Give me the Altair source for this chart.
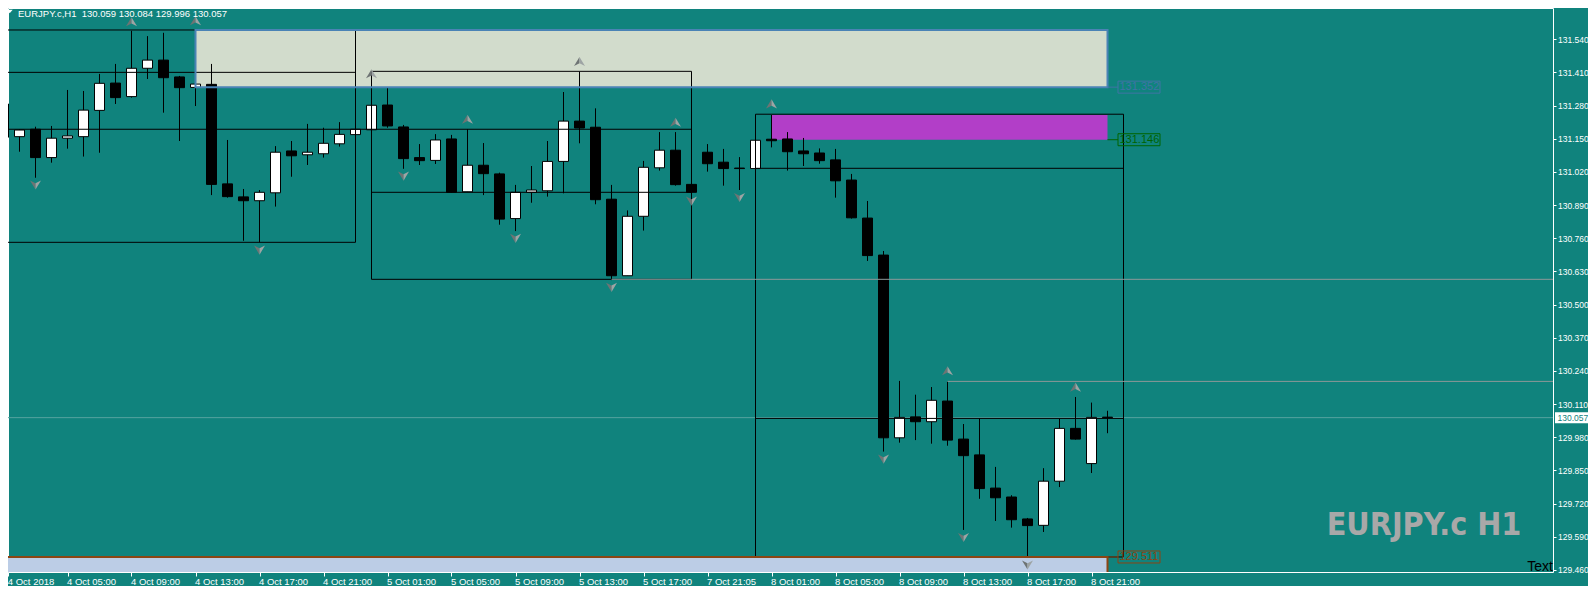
import altair as alt
import pandas as pd

# ---------------- data ----------------
opens = [131.286, 131.158, 131.187, 131.076, 131.152, 131.158, 131.261, 131.368, 131.315, 131.426,
         131.458, 131.392, 131.351, 131.363, 130.973, 130.922, 130.907, 130.938, 131.102, 131.087,
         131.091, 131.130, 131.166, 131.185, 131.282, 131.196, 131.076, 131.065, 131.149, 130.942,
         131.046, 131.012, 130.837, 130.940, 130.946, 131.061, 131.219, 131.195, 130.913, 130.613,
         130.846, 131.036, 131.105, 130.971, 131.097, 131.058, 131.035, 131.033, 131.148, 131.149,
         131.102, 131.094, 131.067, 130.988, 130.839, 130.694, 129.978, 130.060, 130.041, 130.122,
         129.973, 129.911, 129.781, 129.746, 129.660, 129.635, 129.808, 130.015, 129.877, 130.059]
highs = [131.299, 131.186, 131.197, 131.200, 131.341, 131.337, 131.404, 131.443, 131.573, 131.552,
         131.565, 131.396, 131.364, 131.443, 131.145, 130.953, 130.949, 131.121, 131.141, 131.208,
         131.193, 131.215, 131.190, 131.282, 131.350, 131.204, 131.129, 131.168, 131.165, 131.187,
         131.133, 131.017, 130.969, 131.043, 131.141, 131.333, 131.413, 131.269, 130.969, 130.869,
         131.063, 131.176, 131.176, 130.975, 131.129, 131.110, 131.078, 131.146, 131.243, 131.176,
         131.153, 131.112, 131.110, 131.012, 130.906, 130.710, 130.201, 130.147, 130.177, 130.198,
         130.032, 130.054, 129.864, 129.753, 129.664, 129.859, 130.052, 130.138, 130.116, 130.084]
lows = [131.116, 131.099, 130.997, 131.056, 131.111, 131.080, 131.095, 131.286, 131.311, 131.384,
        131.252, 131.141, 131.278, 130.929, 130.919, 130.750, 130.744, 130.884, 131.001, 131.047,
        131.076, 131.119, 131.165, 131.184, 131.193, 131.032, 131.047, 131.051, 130.938, 130.941,
        130.929, 130.813, 130.788, 130.899, 130.923, 130.936, 131.132, 130.893, 130.596, 130.612,
        130.790, 131.025, 130.966, 130.936, 131.021, 130.966, 130.949, 131.032, 131.116, 131.025,
        131.043, 131.052, 130.919, 130.837, 130.671, 129.924, 129.959, 129.969, 129.955, 129.947,
        129.617, 129.739, 129.652, 129.626, 129.511, 129.609, 129.785, 129.971, 129.840, 129.996]
closes = [131.156, 131.184, 131.076, 131.152, 131.161, 131.262, 131.367, 131.311, 131.426, 131.458,
          131.389, 131.350, 131.364, 130.971, 130.923, 130.907, 130.940, 131.097, 131.083, 131.097,
          131.132, 131.167, 131.187, 131.281, 131.200, 131.072, 131.064, 131.145, 130.940, 131.046,
          131.013, 130.835, 130.940, 130.949, 131.061, 131.219, 131.192, 130.911, 130.613, 130.846,
          131.038, 131.105, 130.970, 130.940, 131.052, 131.033, 131.033, 131.144, 131.142, 131.099,
          131.091, 131.064, 130.985, 130.840, 130.692, 129.978, 130.058, 130.041, 130.125, 129.969,
          129.908, 129.779, 129.743, 129.657, 129.634, 129.808, 130.015, 129.973, 130.058, 130.057]

time_labels = ["4 Oct 2018", "4 Oct 05:00", "4 Oct 09:00", "4 Oct 13:00", "4 Oct 17:00",
               "4 Oct 21:00", "5 Oct 01:00", "5 Oct 05:00", "5 Oct 09:00", "5 Oct 13:00",
               "5 Oct 17:00", "7 Oct 21:05", "8 Oct 01:00", "8 Oct 05:00", "8 Oct 09:00",
               "8 Oct 13:00", "8 Oct 17:00", "8 Oct 21:00"]
time_tick_bars = [0.3, 4, 8, 12, 16, 20, 24, 28, 32, 36, 40, 44, 48, 52, 56, 60, 64, 68]
price_ticks = [131.540, 131.410, 131.280, 131.150, 131.020, 130.890, 130.760, 130.630,
               130.500, 130.370, 130.240, 130.110, 129.980, 129.850, 129.720, 129.590, 129.460]

current_price = 130.057
title_text = "EURJPY.c,H1\u00a0\u00a0130.059 130.084 129.996 130.057"

# filled zones (bar from, bar to, price low, price high, fill)
zone_k1 = [12, 48, -2]
zone_k2 = [69, 69, 69]
zone_lo = [131.352, 131.146, 129.40]
zone_hi = [131.576, 131.243, 129.511]
zone_fill = ["#D2DCCC", "#B23EC8", "#BCCDE6"]

# zone outlines
border_k1 = [12, -2]
border_k2 = [69, 69]
border_lo = [131.352, 129.40]
border_hi = [131.576, 129.511]
border_color = ["#4A83B5", "#8B4513"]

# black box segments
seg_k1 = [-2, -2, -2, -2, 23, 23, 23, 47, 47, 47, 47, 22, 23, 43, 47, 70]
seg_k2 = [22, 22, 22, 43, 43, 43, 43, 70, 70, 70, 70, 22, 23, 43, 47, 70]
seg_p1 = [131.576, 131.410, 130.744, 131.187, 131.414, 130.940, 130.599, 131.246, 131.034,
          130.054, 129.511, 130.744, 130.599, 130.599, 129.511, 129.511]
seg_p2 = [131.576, 131.410, 130.744, 131.187, 131.414, 130.940, 130.599, 131.246, 131.034,
          130.054, 129.511, 131.576, 131.414, 131.414, 131.246, 131.246]

# grey level lines running to the right edge
level_k = [38, 59]
level_p = [130.599, 130.199]

# fractal arrows
up_k = [8, 12, 23, 29, 36, 42, 48, 59, 67]
up_p = [131.608, 131.612, 131.404, 131.226, 131.452, 131.214, 131.286, 130.240, 130.176]
dn_k = [2, 16, 25, 32, 38, 43, 46, 55, 60, 64]
dn_p = [130.969, 130.714, 131.004, 130.760, 130.568, 130.906, 130.920, 129.895, 129.588, 129.480]

# price tags at the right end of the zones
tag_k = [69, 69, 69]
tag_p = [131.352, 131.146, 129.511]
tag_text = ["131.352", "131.146", "129.511"]
tag_color = ["#3F74A6", "#006400", "#8B4513"]

# ---------------- layout ----------------
W, H = 1545, 564
TEAL = "#10837D"
FONT = "Liberation Sans"

xs = alt.Scale(domain=[0.28125, 96.84375], nice=False, zero=False, padding=0)
ys = alt.Scale(domain=[129.45216, 131.66216], nice=False, zero=False, padding=0)

label_expr = "[" + ",".join("'%s'" % s for s in time_labels) + "][round(datum.value/4)]"
XA = alt.Axis(values=time_tick_bars, labelExpr=label_expr, title=None, domain=False, grid=False,
              tickColor="white", tickSize=4, tickWidth=1, labelColor="white", labelFont=FONT,
              labelFontSize=9.5, labelAlign="left", labelOffset=-1, labelPadding=0,
              labelOverlap=False, labelFlush=False, labelBound=False)
YA = alt.Axis(orient="right", values=price_ticks, format=".3f", title=None, domain=False,
              grid=False, tickColor="white", tickSize=3, tickWidth=1, labelColor="white",
              labelFont=FONT, labelFontSize=8.5, labelPadding=1.5, labelOverlap=False,
              labelFlush=False)


def X(f):
    return alt.X(f, scale=xs, axis=XA)


def Y(f):
    return alt.Y(f, scale=ys, axis=YA)


candles = pd.DataFrame({"k": list(range(len(opens))), "open": opens, "high": highs,
                        "low": lows, "close": closes})
candles["dir"] = ["up" if c >= o else "down" for o, c in zip(opens, closes)]

zones = pd.DataFrame({"k1": zone_k1, "k2": zone_k2, "lo": zone_lo, "hi": zone_hi, "fill": zone_fill})
borders = pd.DataFrame({"k1": border_k1, "k2": border_k2, "lo": border_lo, "hi": border_hi,
                        "col": border_color})
segs = pd.DataFrame({"k1": seg_k1, "k2": seg_k2, "p1": seg_p1, "p2": seg_p2})
levels = pd.DataFrame({"k": level_k, "p": level_p})
ups = pd.DataFrame({"k": up_k, "p": up_p})
dns = pd.DataFrame({"k": dn_k, "p": dn_p})
tags = pd.DataFrame({"k": tag_k, "p": tag_p, "t": tag_text, "col": tag_color})
cur = pd.DataFrame({"p": [current_price], "t": ["%.3f" % current_price]})
one = pd.DataFrame({"t": [title_text], "w": ["EURJPY.c H1"], "x": ["Text"]})

zone_layer = alt.Chart(zones).mark_rect(clip=True).encode(
    x=X("k1:Q"), x2="k2:Q", y=Y("lo:Q"), y2="hi:Q", fill=alt.Fill("fill:N", scale=None))
bid_layer = alt.Chart(cur).mark_rule(color="#56A49F", strokeWidth=1).encode(y=Y("p:Q"))
wick_layer = alt.Chart(candles).mark_rule(color="black", strokeWidth=1, clip=True).encode(
    x=X("k:Q"), y=Y("low:Q"), y2="high:Q")
body_layer = alt.Chart(candles).mark_bar(size=10, stroke="black", strokeWidth=1, clip=True).encode(
    x=X("k:Q"), y=Y("open:Q"), y2="close:Q",
    fill=alt.Fill("dir:N", scale=alt.Scale(domain=["up", "down"], range=["white", "black"]),
                  legend=None))
seg_layer = alt.Chart(segs).mark_rule(color="black", strokeWidth=1, clip=True).encode(
    x=X("k1:Q"), x2="k2:Q", y=Y("p1:Q"), y2="p2:Q")
border_layer = alt.Chart(borders).mark_rect(fillOpacity=0, strokeWidth=2, clip=True).encode(
    x=X("k1:Q"), x2="k2:Q", y=Y("lo:Q"), y2="hi:Q", stroke=alt.Stroke("col:N", scale=None))
level_layer = alt.Chart(levels).mark_rule(color="#8C9898", strokeWidth=1, clip=True).encode(
    x=X("k:Q"), x2=alt.value(W), y=Y("p:Q"))

UPL = "M0,-0.85L0,0.3L-1,0.8Z"
UPR = "M0,-0.85L1,0.8L0,0.3Z"
DNL = "M0,0.85L0,-0.3L-1,-0.8Z"
DNR = "M0,0.85L1,-0.8L0,-0.3Z"
arrow_layers = []
for df, shp, col in [(ups, UPL, "#6E7474"), (ups, UPR, "#9EA4A4"),
                     (dns, DNL, "#6E7474"), (dns, DNR, "#9EA4A4")]:
    arrow_layers.append(alt.Chart(df).mark_point(shape=shp, size=121, filled=True, color=col,
                                                 opacity=1, strokeWidth=0, clip=True).encode(
        x=X("k:Q"), y=Y("p:Q")))

tag_line = alt.Chart(tags).mark_rule(x2Offset=10.5, strokeWidth=1).encode(
    x=X("k:Q"), x2="k:Q", y=Y("p:Q"), stroke=alt.Stroke("col:N", scale=None))
tag_box = alt.Chart(tags).mark_rect(xOffset=10.5, x2Offset=52.5, yOffset=-6, y2Offset=6,
                                    fillOpacity=0, strokeWidth=1).encode(
    x=X("k:Q"), x2="k:Q", y=Y("p:Q"), y2="p:Q", stroke=alt.Stroke("col:N", scale=None))
tag_txt = alt.Chart(tags).mark_text(dx=12, align="left", baseline="middle", font=FONT,
                                    fontSize=11).encode(
    x=X("k:Q"), y=Y("p:Q"), text="t:N", color=alt.Color("col:N", scale=None))

cur_box = alt.Chart(cur).mark_rect(color="white", yOffset=-5.5, y2Offset=5.5).encode(
    x=alt.value(W + 2), x2=alt.value(W + 35), y=Y("p:Q"), y2="p:Q")
cur_txt = alt.Chart(cur).mark_text(align="left", baseline="middle", color=TEAL, font=FONT,
                                   fontSize=8.5).encode(
    x=alt.value(W + 4.5), y=Y("p:Q"), text="t:N")

title_layer = alt.Chart(one).mark_text(align="left", baseline="alphabetic", color="white",
                                       font=FONT, fontSize=9.5).encode(
    x=alt.value(10), y=alt.value(9), text="t:N")
tri_layer = alt.Chart(one).mark_point(shape="M-1,-0.55L1,-0.55L0,0.55Z", size=36, filled=True,
                                      color="white", opacity=1, strokeWidth=0).encode(
    x=alt.value(1.7), y=alt.value(3.5))
mark_layer = alt.Chart(one).mark_text(align="center", baseline="alphabetic", color="#A8A8A8",
                                      font="DejaVu Sans Condensed, Roboto, sans-serif",
                                      fontWeight="bold", fontSize=32).encode(
    x=alt.value(1416), y=alt.value(527), text="w:N")
text_layer = alt.Chart(one).mark_text(align="right", baseline="alphabetic", color="black",
                                      font=FONT, fontSize=14).encode(
    x=alt.value(W), y=alt.value(563), text="x:N")

chart = alt.layer(
    zone_layer, bid_layer, wick_layer, body_layer, seg_layer, border_layer, level_layer,
    *arrow_layers, tag_line, tag_box, tag_txt, cur_box, cur_txt,
    title_layer, tri_layer, mark_layer, text_layer
).properties(
    width=W, height=H,
    padding={"left": 0, "top": 0, "right": 35, "bottom": 14},
    autosize=alt.AutoSizeParams(type="none"),
    background=TEAL,
).configure_view(stroke="white", strokeWidth=1, fill=TEAL)

chart.save("out.html", embed_options={"renderer": "svg", "actions": False})
